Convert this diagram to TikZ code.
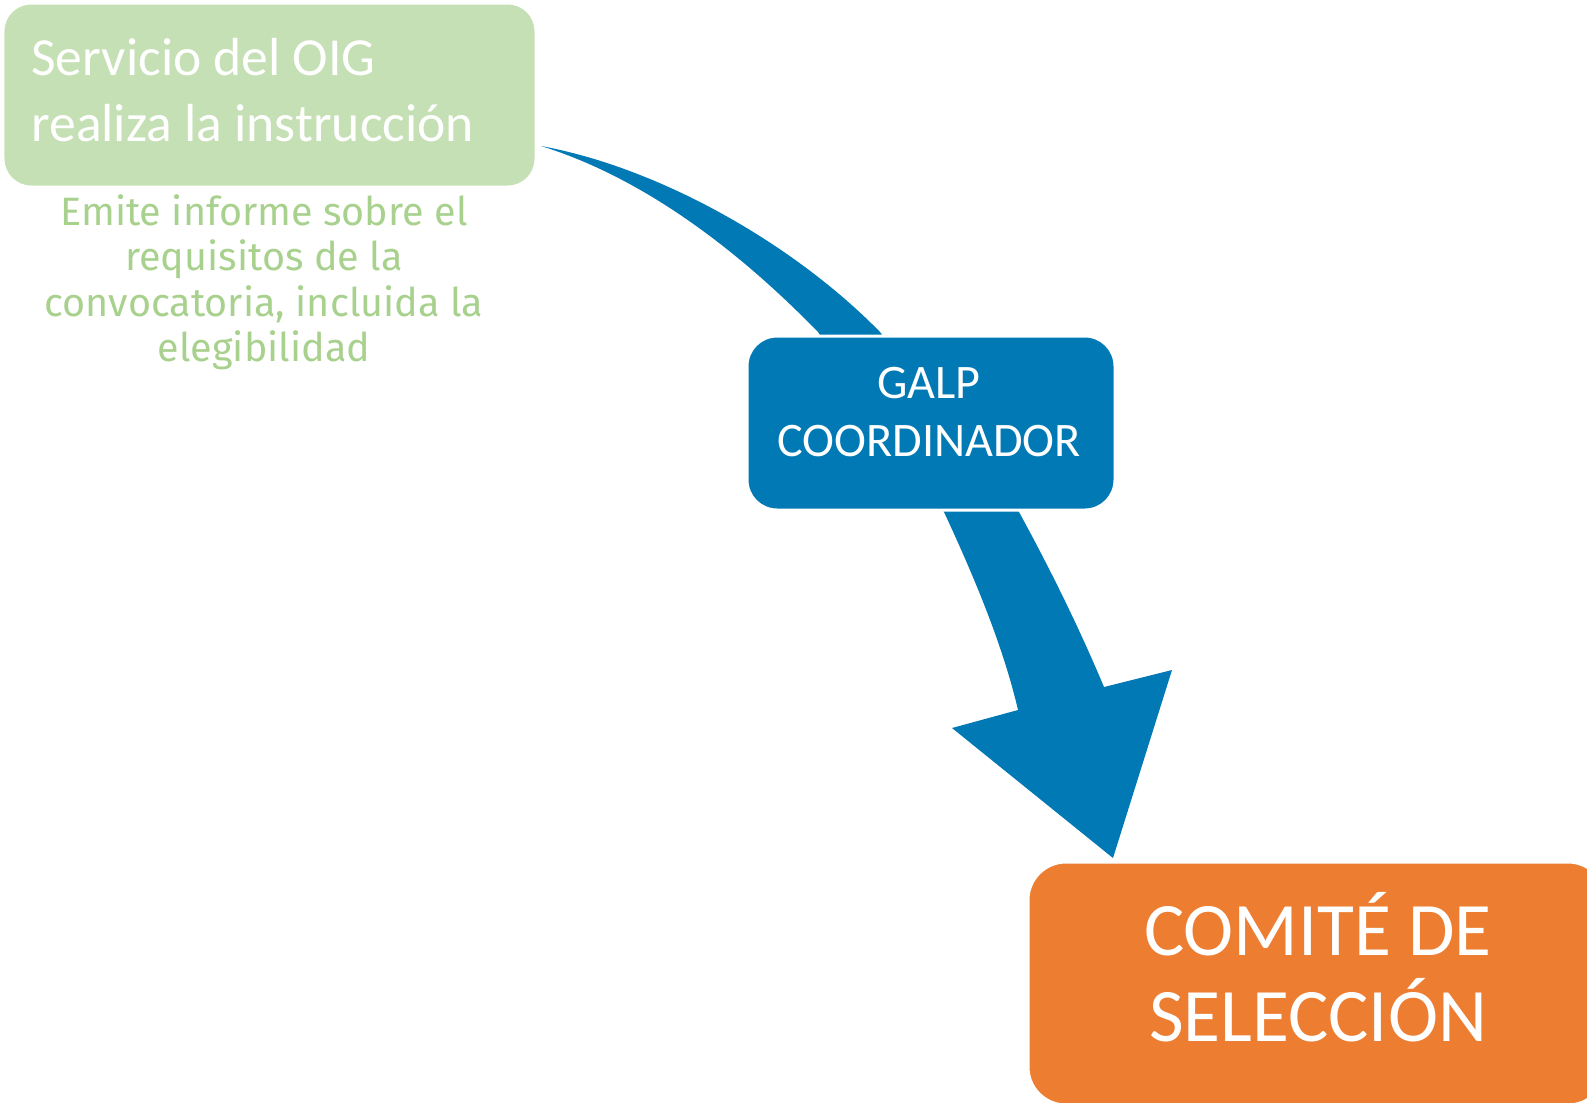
\documentclass[tikz,border=0pt]{standalone}
\usepackage{fontspec}
\setmainfont{Carlito}
\newfontfamily\subfont{Fira Sans}
\usetikzlibrary{positioning}
\usetikzlibrary{calc}

\definecolor{oigGreen}{HTML}{C5E0B4}
\definecolor{oigText}{HTML}{A9D18E}
\definecolor{galpBlue}{HTML}{0079B5}
\definecolor{comiteOrange}{HTML}{ED7D31}

\begin{document}
\begin{tikzpicture}

\tikzstyle{stepBox}=[rectangle,rounded corners=0.56cm,draw=white,line width=0.06cm,inner sep=0pt];
\tikzstyle{boxText}=[text=white,inner sep=0pt,align=center];
\tikzstyle{flowArrow}=[fill=galpBlue,draw=none];

\useasboundingbox (0,0) rectangle (31.74,-22.04);
\clip (0,0) rectangle (31.74,-22.04);

% curved arrow first, the boxes are laid over it
\fill [flowArrow] (10.82,-2.92) .. controls (13.22,-3.36) and (15.90,-4.90) .. (17.60,-6.64)
	-- (20.38,-10.24) .. controls (20.96,-11.30) and (21.56,-12.50) .. (22.08,-13.74)
	-- (23.44,-13.40) -- (22.26,-17.16) -- (19.04,-14.56) -- (20.36,-14.20)
	.. controls (20.08,-13.00) and (19.56,-11.70) .. (18.88,-10.24)
	-- (16.36,-6.64) .. controls (14.96,-5.20) and (13.02,-3.60) .. (10.82,-2.92) -- cycle;

\node [stepBox,fill=oigGreen,minimum width=10.66cm,minimum height=3.68cm] (oig) at (5.39,-1.90) {};
\node [boxText,align=left,anchor=west,font=\fontsize{30.5}{37.5}\selectfont] (oigLbl) at (0.62,-1.80) {Servicio del OIG\\realiza la instrucción};
\node [below=0.12cm of oig,xshift=-0.11cm,inner sep=0pt,align=center,text=oigText,font=\subfont\fontsize{22.5}{25.7}\selectfont] (informe) {Emite informe sobre el\\requisitos de la\\convocatoria, incluida la\\elegibilidad};

\node [stepBox,fill=galpBlue,rounded corners=0.6cm,minimum width=7.36cm,minimum height=3.48cm] (galp) at (18.62,-8.46) {};
\node [boxText,font=\fontsize{27.4}{33.5}\selectfont] (galpLbl) at (18.58,-8.24) {GALP\\COORDINADOR};

\node [stepBox,fill=comiteOrange,rounded corners=0.76cm,minimum width=11.56cm,minimum height=4.86cm] (comite) at (26.34,-19.67) {};
\node [boxText,font=\fontsize{43}{49}\selectfont] (comiteLbl) at (26.36,-19.34) {COMITÉ DE\\SELECCIÓN};

\end{tikzpicture}
\end{document}
